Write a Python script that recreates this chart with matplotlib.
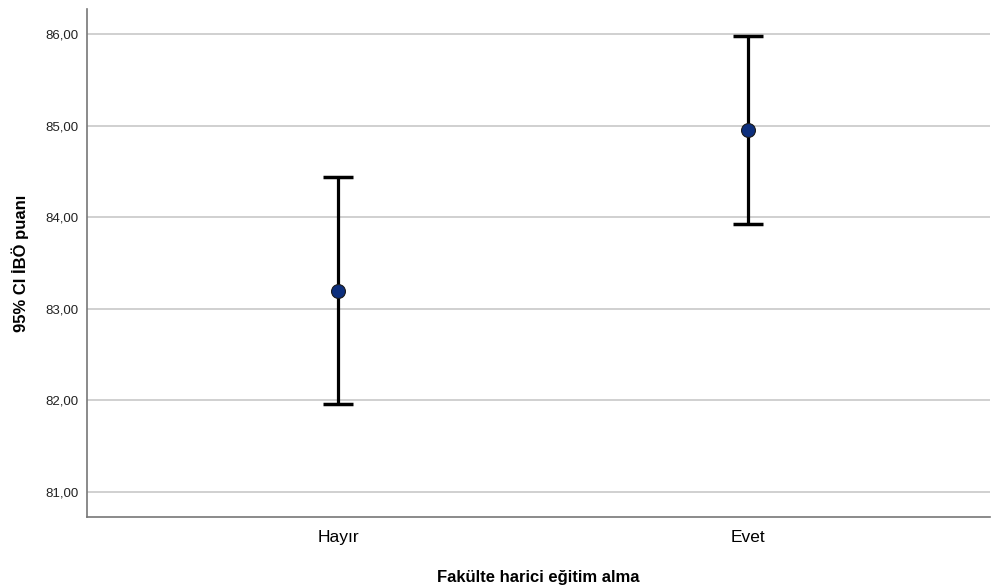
import numpy as np
import matplotlib
matplotlib.use('Agg')
import matplotlib.pyplot as plt

# data
groups = ['Hayır', 'Evet']
means = [83.20, 84.95]
lower = [81.96, 83.93]
upper = [84.44, 85.98]
yticks = [81, 82, 83, 84, 85, 86]

plt.rcParams['font.family'] = ['Liberation Sans', 'DejaVu Sans']

fig = plt.figure(figsize=(9.91, 5.86), dpi=100)
ax = fig.add_axes([0.0878, 0.1177, 0.9112, 0.8669])

x = np.arange(len(groups))
m = np.array(means)
err = np.vstack([m - np.array(lower), np.array(upper) - m])

# error bars with caps, then the mean markers on top
ax.errorbar(x, m, yerr=err, fmt='none', ecolor='black',
            elinewidth=2.3, capsize=11, capthick=2.5, zorder=3)
ax.plot(x, m, 'o', markersize=10, markerfacecolor='#0d2f7d',
        markeredgecolor='#1a1a1a', markeredgewidth=0.8, zorder=4)

ax.set_xlim(-0.612, 1.59)
ax.set_ylim(80.727, 86.273)
ax.set_xticks(x)
ax.set_xticklabels(groups, fontsize=12.5)
ax.set_yticks(yticks)
ax.set_yticklabels(['{:.2f}'.format(v).replace('.', ',') for v in yticks],
                   fontsize=9.5, color='#222222')
ax.tick_params(axis='both', length=0)
ax.tick_params(axis='x', pad=9)
ax.tick_params(axis='y', pad=6)

ax.yaxis.grid(True, color='#c8c8c8', linewidth=1.2)
ax.set_axisbelow(True)

for side in ['top', 'right']:
    ax.spines[side].set_visible(False)
for side in ['left', 'bottom']:
    ax.spines[side].set_color('#777777')
    ax.spines[side].set_linewidth(1.2)

ax.set_xlabel('Fakülte harici eğitim alma', fontsize=12, fontweight='bold',
              labelpad=18)
ax.set_ylabel('95% CI İBÖ puanı', fontsize=12, fontweight='bold', labelpad=12)

fig.savefig('out.png', dpi=100)
